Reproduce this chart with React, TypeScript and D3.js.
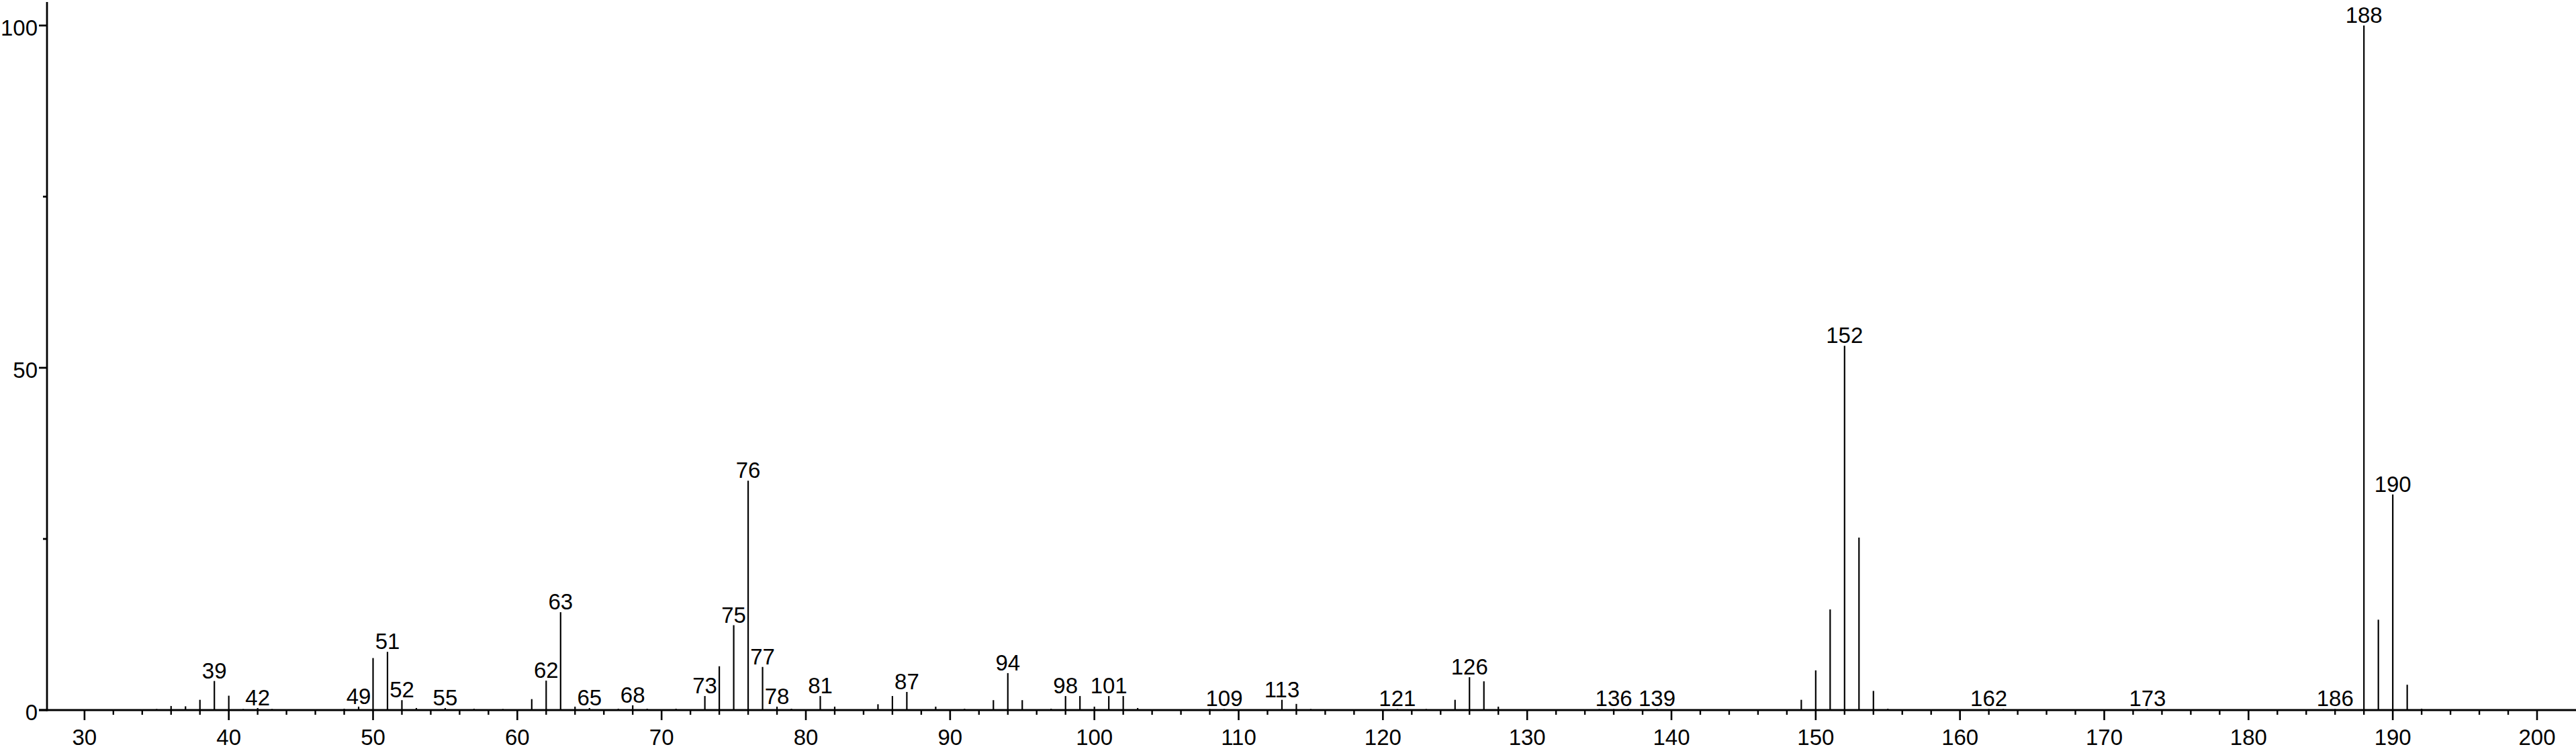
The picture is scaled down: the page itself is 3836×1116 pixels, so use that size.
import React from "react";
import * as d3 from "d3";

// m/z positions and relative intensities (%)
const mzValues: number[] = [
  35, 36, 37, 38, 39, 40, 41, 42, 43, 45, 47, 48, 49, 50, 51, 52, 53, 55, 57, 59,
  61, 62, 63, 64, 65, 67, 68, 69, 71, 73, 74, 75, 76, 77, 78, 79, 81, 82, 85, 86,
  87, 89, 91, 93, 94, 95, 97, 98, 99, 100, 101, 102, 103, 108, 109, 111, 113, 114, 115, 121,
  123, 125, 126, 127, 128, 135, 136, 137, 139, 147, 149, 150, 151, 152, 153, 154, 155, 162, 163, 173,
  186, 188, 189, 190, 191, 192,
];
const intensities: number[] = [
  0.15, 0.6, 0.55, 1.5, 4.25, 2.1, 0.15, 0.3, 0.15, 0.1, 0.1, 0.2, 0.5, 7.6, 8.5, 1.45, 0.3, 0.3, 0.2, 0.15,
  1.6, 4.3, 14.3, 0.5, 0.3, 0.2, 0.7, 0.2, 0.2, 2.05, 6.4, 12.4, 33.5, 6.3, 0.5, 0.2, 2.05, 0.5, 0.85, 2.05,
  2.65, 0.5, 0.2, 1.45, 5.4, 1.45, 0.2, 2.05, 2.05, 0.5, 2.05, 2.05, 0.3, 0.15, 0.15, 0.1, 1.5, 0.9, 0.15, 0.15,
  0.15, 1.5, 4.8, 4.2, 0.5, 0.15, 0.15, 0.15, 0.15, 0.1, 1.5, 5.8, 14.7, 53.2, 25.2, 2.8, 0.2, 0.15, 0.15, 0.15,
  0.15, 100, 13.2, 31.5, 3.7, 0.2,
];
// peaks that carry a numeric label
const labeledPeaks: number[] = [
  39, 42, 49, 51, 52, 55, 62, 63, 65, 68, 73, 75, 76, 77, 78, 81, 87, 94, 98, 101,
  109, 113, 121, 126, 136, 139, 152, 162, 173, 186, 188, 190,
];
const xMajorTicks: number[] = [30, 40, 50, 60, 70, 80, 90, 100, 110, 120, 130, 140, 150, 160, 170, 180, 190, 200];
const yMajorTicks: number[] = [0, 50, 100];
const yMinorTicks: number[] = [25, 75];

const W = 3836;
const H = 1116;
const FONT = "'Liberation Sans', Arial, Helvetica, sans-serif";

export default function App() {
  const x = d3.scaleLinear().domain([27.4, 202.7]).range([70, 3836]);
  const y = d3.scaleLinear().domain([0, 100]).range([1058, 38]);

  const peaks = mzValues.map((m, i) => ({ m, v: intensities[i] }));
  const peakMap = new Map(peaks.map((p) => [p.m, p.v]));
  const xMinorTicks = d3.range(32, 200, 2).filter((t) => t % 10 !== 0);

  const x0 = x(27.4);
  const base = y(0);

  return (
    <svg
      width={W}
      height={H}
      style={{ position: "absolute", left: 0, top: 0, display: "block", background: "#fff" }}
      fontFamily={FONT}
    >
      <rect x={0} y={0} width={W} height={H} fill="#fff" />
      {/* peaks */}
      {peaks.map((p) => (
        <line
          key={"p" + p.m}
          x1={x(p.m)}
          x2={x(p.m)}
          y1={base}
          y2={y(p.v)}
          stroke="#000"
          strokeWidth={2.2}
        />
      ))}
      {/* x axis */}
      <line x1={58} x2={W} y1={base} y2={base} stroke="#000" strokeWidth={3.2} />
      {xMinorTicks.map((t) => (
        <line key={"mn" + t} x1={x(t)} x2={x(t)} y1={base} y2={base + 7} stroke="#000" strokeWidth={2.4} />
      ))}
      {xMajorTicks.map((t) => (
        <g key={"mj" + t}>
          <line x1={x(t)} x2={x(t)} y1={base} y2={base + 15} stroke="#000" strokeWidth={2.6} />
          <text x={x(t)} y={1110} fontSize={33} textAnchor="middle" fill="#000">
            {t}
          </text>
        </g>
      ))}
      {/* y axis */}
      <line x1={x0} x2={x0} y1={3} y2={base + 1.5} stroke="#000" strokeWidth={2.8} />
      {yMajorTicks.map((t) => (
        <g key={"ym" + t}>
          <line x1={58} x2={x0} y1={y(t)} y2={y(t)} stroke="#000" strokeWidth={2.8} />
          <text x={56} y={y(t) + 15} fontSize={33} textAnchor="end" fill="#000">
            {t}
          </text>
        </g>
      ))}
      {yMinorTicks.map((t) => (
        <line key={"yn" + t} x1={64} x2={x0} y1={y(t)} y2={y(t)} stroke="#000" strokeWidth={2.8} />
      ))}
      {/* peak labels */}
      {labeledPeaks.map((m) => (
        <text
          key={"l" + m}
          x={x(m)}
          y={y(peakMap.get(m) ?? 0) - 4}
          fontSize={33}
          textAnchor="middle"
          fill="#000"
        >
          {m}
        </text>
      ))}
    </svg>
  );
}
